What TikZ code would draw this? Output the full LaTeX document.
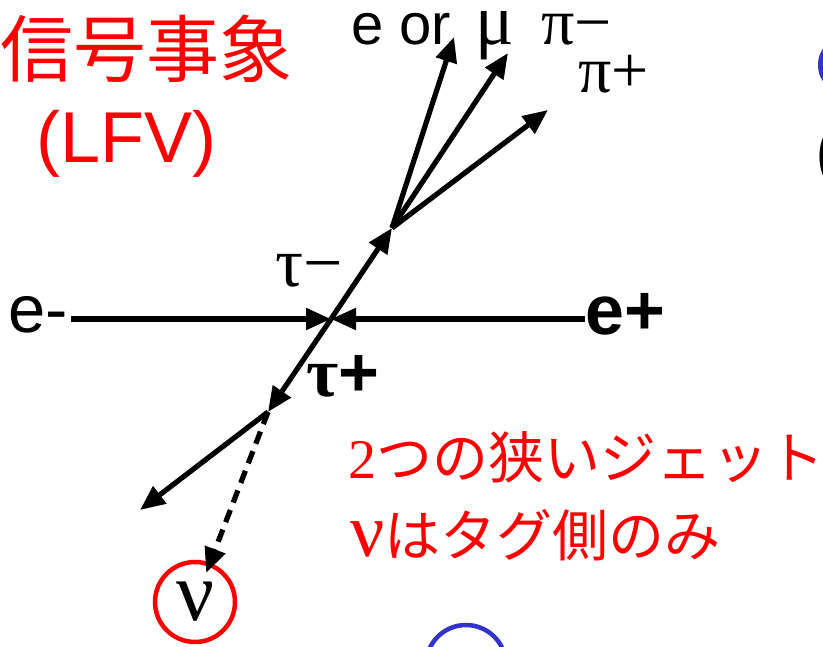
\documentclass[tikz,border=0pt]{standalone}
\usepackage{fontspec}
\setmainfont{Liberation Sans}
\newfontfamily\serif{Liberation Serif}
\newfontfamily\cjk{Noto Sans CJK JP}
\usetikzlibrary{arrows.meta}
\definecolor{slideblue}{RGB}{51,51,204}
\begin{document}
\begin{tikzpicture}[x=1pt,y=-1pt,
  line/.style={line width=5.2pt, black},
  arr/.style={line, -{Triangle[length=25pt,width=21pt]}},
  lbl/.style={inner sep=0pt, anchor=base west},
  redtxt/.style={lbl, text=red}]
\useasboundingbox (0,0) rectangle (823,647);
\clip (0,0) rectangle (823,647);
\fill[white] (0,0) rectangle (823,647);

% titles
\node[redtxt] (title) at (0,77) {\cjk\fontsize{73pt}{80pt}\selectfont 信号事象};
\node[redtxt] (lfv) at (36,163) {\fontsize{72pt}{80pt}\selectfont (LFV)};

% beams
\coordinate (V) at (331,319);
\node[lbl] (em) at (8,333) {\fontsize{67pt}{70pt}\selectfont e-};
\node[lbl] (ep) at (585,335) {\bfseries\fontsize{70pt}{70pt}\selectfont e+};
\draw[arr] ([xshift=3pt]em.east |- V) -- (V);
\draw[arr] (ep.west |- V) -- (V);

% taus
\coordinate (T1) at (392,228);
\coordinate (T2) at (268,412);
\draw[arr] (V) -- (T1);
\draw[arr] (V) -- (T2);
\node[lbl] (taum) at (275,287) {\serif\fontsize{70pt}{70pt}\selectfont τ−};
\node[lbl] (taup) at (306,397) {\serif\bfseries\fontsize{70pt}{70pt}\selectfont τ{\fontspec{Liberation Sans Bold}+}};

% signal side decay
\coordinate (A1) at (454,37);
\coordinate (A2) at (508,53);
\coordinate (A3) at (548,110);
\draw[arr] (T1) -- (A1);
\draw[arr] (T1) -- (A2);
\draw[arr] (T1) -- (A3);
\node[lbl] (eor) at (351,45) {\fontsize{58pt}{60pt}\selectfont e or\hspace{24pt}{\serif\fontsize{72pt}{72pt}\selectfont μ}};
\node[lbl] (pim) at (541,45) {\serif\fontsize{66pt}{66pt}\selectfont π−};
\node[lbl] (pip) at (578,93) {\serif\fontsize{66pt}{66pt}\selectfont π+};

% tag side decay
\coordinate (B1) at (140,510);
\draw[arr] (T2) -- (B1);
\node[circle, draw=red, line width=4.5pt, minimum size=80pt, inner sep=0pt] (nu) at (195,602)
  {\serif\fontsize{84pt}{84pt}\selectfont\raisebox{-2pt}{ν}};
\draw[arr, dash pattern=on 13pt off 8pt, shorten >=-11pt] (T2) -- (nu);

% notes
\node[redtxt] (jet) at (348,478) {\fontsize{56pt}{60pt}\selectfont{\serif 2}{\cjk つの狭いジェット}};
\node[redtxt] (tag) at (350,556) {\fontsize{56pt}{60pt}\selectfont{\serif\fontsize{76pt}{76pt}\selectfont ν}{\cjk はタグ側のみ}};

% partially visible neighbours (cut by the frame)
\fill[slideblue] (848,65) circle[radius=30pt];
\draw[slideblue, line width=4.5pt] (466,665) circle[radius=40pt];
\node[lbl] (rp) at (815,176) {\fontsize{72pt}{80pt}\selectfont (};
\end{tikzpicture}
\end{document}
